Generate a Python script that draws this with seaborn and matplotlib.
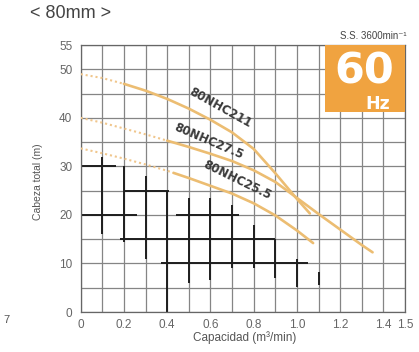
import numpy as np
import pandas as pd
import matplotlib
matplotlib.use("Agg")
import matplotlib.pyplot as plt
from matplotlib.patches import Rectangle
import seaborn as sns

# pump curves (capacity m3/min, head m); dotted part runs up to dot_*
q_211 = [0, 0.1, 0.2, 0.3, 0.4, 0.5, 0.6, 0.7, 0.8, 0.9, 1.0, 1.06]
h_211 = [49, 48.2, 47, 45.6, 43.9, 41.9, 39.6, 37, 33.6, 28.6, 23.3, 20.3]
dot_211 = 0.2

q_275 = [0, 0.1, 0.2, 0.3, 0.4, 0.5, 0.6, 0.7, 0.8, 0.9, 1.0, 1.1, 1.2, 1.3, 1.35]
h_275 = [40, 39, 37.8, 36.6, 35.3, 34, 32.6, 31.1, 29.2, 26.8, 23.5, 20.2, 17, 13.8, 12.3]
dot_275 = 0.4

q_255 = [0, 0.1, 0.2, 0.3, 0.4, 0.5, 0.6, 0.7, 0.8, 0.9, 1.0, 1.075]
h_255 = [33.7, 32.7, 31.6, 30.4, 29.1, 27.6, 26, 24.4, 22.4, 19.9, 16.8, 14.2]
dot_255 = 0.43

models = ["80NHC211", "80NHC27.5", "80NHC25.5"]

x_ticks = [0, 0.2, 0.4, 0.6, 0.8, 1.0, 1.2, 1.4, 1.5]
x_labels = ["0", "0.2", "0.4", "0.6", "0.8", "1.0", "1.2", "1.4", "1.5"]
y_ticks = [0, 10, 20, 30, 40, 50, 55]

# dark overlay strokes on the grid
h_seg_y = [30, 20, 25, 15, 20, 10]
h_seg_x0 = [0, 0, 0.2, 0.18, 0.44, 0.37]
h_seg_x1 = [0.165, 0.26, 0.41, 0.9, 0.73, 1.05]
v_seg_x = [0, 0.1, 0.2, 0.3, 0.4, 0.5, 0.6, 0.7, 0.8, 0.9, 1.0, 1.1]
v_seg_y0 = [18, 16, 14.5, 11, 0, 6, 6.5, 9, 9, 7, 5.2, 5.5]
v_seg_y1 = [32.5, 32, 30, 28, 25, 23.5, 23.4, 22, 18, 15, 11, 8.3]

sns.set_theme(style="white")
plt.rcParams["font.family"] = ["Liberation Sans", "DejaVu Sans"]

fig = plt.figure(figsize=(4.19, 3.52), dpi=100)
ax = fig.add_axes([0.1926, 0.1136, 0.774, 0.7585])

ax.set_xlim(0, 1.5)
ax.set_ylim(0, 55)
ax.set_xticks(x_ticks)
ax.set_xticklabels(x_labels)
ax.set_xticks(np.arange(0, 1.51, 0.1), minor=True)
ax.set_yticks(y_ticks)
ax.set_yticks(np.arange(0, 56, 5), minor=True)
ax.grid(True, which="both", color="#858585", lw=0.9, zorder=0)
ax.tick_params(which="both", length=0, labelsize=8.5, labelcolor="#666666")
ax.tick_params(axis="x", pad=5)
ax.tick_params(axis="y", pad=6)
for s in ax.spines.values():
    s.set_color("#666666")
    s.set_linewidth(0.9)

ax.hlines(h_seg_y, h_seg_x0, h_seg_x1, color="#1e1e1e", lw=1.4, zorder=1)
ax.vlines(v_seg_x, v_seg_y0, v_seg_y1, color="#1e1e1e", lw=1.4, zorder=1)

curves = [(q_211, h_211, dot_211), (q_275, h_275, dot_275), (q_255, h_255, dot_255)]
for q, h, d in curves:
    df = pd.DataFrame({"q": q, "h": h})
    hd = np.interp(d, df.q, df.h)
    joint = pd.DataFrame({"q": [d], "h": [hd]})
    dotted = pd.concat([df[df.q < d], joint])
    solid = pd.concat([joint, df[df.q > d]])
    sns.lineplot(data=dotted, x="q", y="h", ax=ax, color="#f0c68c", lw=1.5,
                 linestyle=(0, (1, 1.4)), zorder=3)
    sns.lineplot(data=solid, x="q", y="h", ax=ax, color="#ecbd72", lw=1.9, zorder=3)
ax.set_xlabel("")
ax.set_ylabel("")

lab_x = [0.645, 0.59, 0.725]
lab_y = [42.0, 35.2, 27.2]
lab_rot = [-29, -23, -26]
for m, lx, ly, r in zip(models, lab_x, lab_y, lab_rot):
    ax.text(lx, ly, m, rotation=r, ha="center", va="center", fontsize=8.5,
            fontweight="bold", color="#3a3a3a", zorder=4,
            family=["DejaVu Sans"])

ax.add_patch(Rectangle((1.13, 41.2), 0.37, 13.8, color="#f0a340", zorder=5, lw=0))
ax.text(1.313, 47.1, "60", ha="center", va="baseline", fontsize=31,
        fontweight="bold", color="white", zorder=6, family=["DejaVu Sans"])
ax.text(1.375, 41.75, "Hz", ha="center", va="baseline", fontsize=12.5,
        fontweight="bold", color="white", zorder=6, family=["DejaVu Sans"])

fig.text(30 / 419, 1 - 14 / 352, "< 80mm >", ha="left", va="center",
         fontsize=13, color="#444444")
fig.text(407 / 419, 1 - 36 / 352, "S.S. 3600min⁻¹", ha="right", va="center",
         fontsize=7, color="#444444", family=["Liberation Sans", "DejaVu Sans"])
fig.text(245 / 419, 1 - 338 / 352, "Capacidad (m³/min)", ha="center", va="center",
         fontsize=8.5, color="#555555")
fig.text(38 / 419, 1 - 182 / 352, "Cabeza total (m)", ha="center", va="center",
         rotation=90, fontsize=7.5, color="#555555")
fig.text(3 / 419, 1 - 320 / 352, "7", ha="left", va="center", fontsize=8,
         color="#555555")

fig.savefig("out.png", dpi=100)
